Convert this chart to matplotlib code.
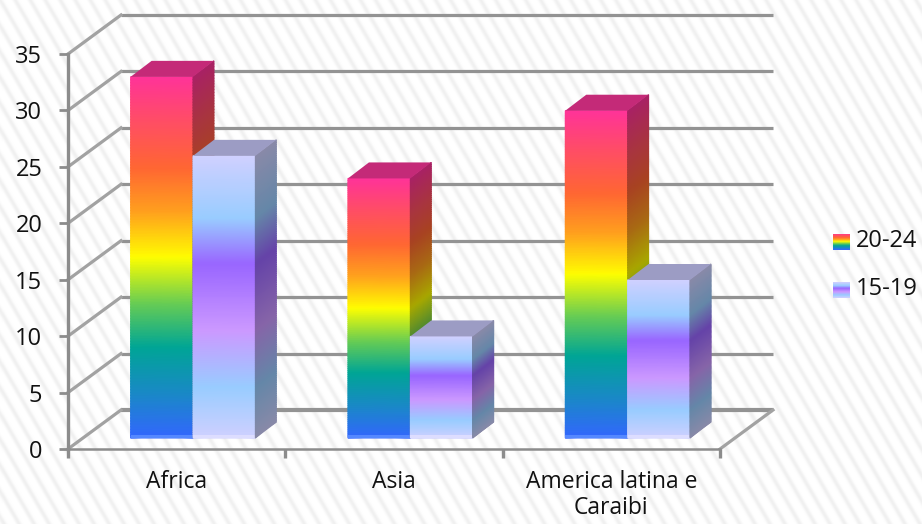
import numpy as np
import matplotlib
matplotlib.use('Agg')
import matplotlib.pyplot as plt
from matplotlib.colors import LinearSegmentedColormap

categorias = ['Africa', 'Asia', 'America latina e\nCaraibi']
valores_20_24 = [32, 23, 29]
valores_15_19 = [25, 9, 14]
rotulos_y = [0, 5, 10, 15, 20, 25, 30, 35]
series = ['20-24', '15-19']

plt.rcParams['font.family'] = ['Open Sans', 'DejaVu Sans']

W, H = 922, 524
fig = plt.figure(figsize=(W / 100, H / 100), dpi=100)

# fundo com listras diagonais bem claras
yy, xx = np.mgrid[0:H, 0:W]
fase = (xx - 0.58 * yy) / 15.0
listras = 0.5 + 0.5 * np.cos(2 * np.pi * fase)
fundo = 1.0 - 0.06 * listras ** 3
ax_fundo = fig.add_axes([0, 0, 1, 1], zorder=0)
ax_fundo.imshow(fundo, cmap='gray', vmin=0, vmax=1, aspect='auto', interpolation='bilinear')
ax_fundo.axis('off')

# eixos: retangulo frontal do grafico 3D, em pixels da figura
ax = fig.add_axes([68 / W, 1 - 449 / H, (720 - 68) / W, (449 - 54) / H], zorder=1)
ax.patch.set_alpha(0)
ax.set_xlim(0, 3)
ax.set_ylim(0, 35)

cinza = '#939393'
prof_x = 53 / 217.33   # profundidade da parede do fundo
prof_y = 39 / 11.286
base_x = 15 / 217.33   # recuo da base das barras
base_y = 11 / 11.286
bar_x = 21 / 217.33    # profundidade das barras
bar_y = 16 / 11.286
largura = 0.287
inicio = 0.219

for v in rotulos_y:
    lw = 3.0 if v == 0 else 2.3
    ax.plot([prof_x, 3 + prof_x], [v + prof_y, v + prof_y], color=cinza, lw=lw,
            clip_on=False, zorder=1, solid_capstyle='butt')
    ax.plot([0, prof_x], [v, v + prof_y], color='#a2a2a2', lw=2.3, clip_on=False, zorder=1)
ax.plot([3, 3 + prof_x], [0, prof_y], color='#a2a2a2', lw=2.3, clip_on=False, zorder=1)

arco_iris = LinearSegmentedColormap.from_list('arco', [
    (0.00, '#3366FF'), (0.12, '#1A88C8'), (0.25, '#00A596'), (0.37, '#66CC55'),
    (0.50, '#FFFF00'), (0.63, '#FF9F1E'), (0.75, '#FF6633'), (0.88, '#FF4D66'), (1.00, '#FF3399')])
lilas = LinearSegmentedColormap.from_list('lilas', [
    (0.00, '#D0D0FF'), (0.18, '#99CCFF'), (0.38, '#CC99FF'), (0.62, '#9966FF'),
    (0.78, '#99CCFF'), (1.00, '#D0D0FF')])


def escurece(cmap, fator):
    cores = cmap(np.linspace(0, 1, 256))
    cores[:, :3] *= fator
    return LinearSegmentedColormap.from_list(cmap.name + '_esc', cores)


def barra(x0, valor, cmap, cor_topo, cor_base, z):
    x1 = x0 + largura
    y0 = base_y
    y1 = base_y + valor
    g = np.linspace(0, 1, 128)[None, :].T.repeat(2, axis=1)
    ys = np.linspace(y0, y1, 128)[:, None]
    # frente
    X = np.array([[x0, x1]]).repeat(128, axis=0)
    Y = ys.repeat(2, axis=1)
    ax.pcolormesh(X, Y, g, cmap=cmap, vmin=0, vmax=1, shading='gouraud', zorder=z, clip_on=False)
    ax.fill([x0, x1, x1, x0], [y0, y0, y0 + 0.3, y0 + 0.3], color=cor_base, lw=0, zorder=z, clip_on=False)
    # lado direito
    X = np.array([[x1, x1 + bar_x]]).repeat(128, axis=0)
    Y = np.hstack([ys, ys + bar_y])
    ax.pcolormesh(X, Y, g, cmap=escurece(cmap, 0.66), vmin=0, vmax=1, shading='gouraud',
                  zorder=z, clip_on=False)
    # topo
    ax.fill([x0, x1, x1 + bar_x, x0 + bar_x], [y1, y1, y1 + bar_y, y1 + bar_y],
            color=cor_topo, lw=0, zorder=z, clip_on=False)


for i in range(len(categorias)):
    x = i + inicio + base_x
    barra(x, valores_20_24[i], arco_iris, '#C42A78', '#5588FF', 3 + i)
    barra(x + largura, valores_15_19[i], lilas, '#9C9CC4', '#DDDDFF', 3.5 + i)

# eixos e rotulos
for lado in ['top', 'right']:
    ax.spines[lado].set_visible(False)
ax.spines['left'].set_color('#8c8c8c')
ax.spines['left'].set_linewidth(2.4)
ax.spines['bottom'].set_color('#8c8c8c')
ax.spines['bottom'].set_linewidth(1.8)
ax.spines['left'].set_zorder(2)
ax.spines['bottom'].set_zorder(2)
ax.set_yticks(rotulos_y)
ax.set_xticks([0, 1, 2, 3])
ax.set_xticklabels([])
ax.set_xticks([0.5, 1.5, 2.5], minor=True)
ax.set_xticklabels(categorias, minor=True, fontsize=16.5, color='#111111', linespacing=1.1)
ax.tick_params(axis='y', length=6.5, width=2, color='#8c8c8c', labelsize=17, pad=12, labelcolor='#111111')
ax.tick_params(axis='x', which='major', length=6.5, width=2.4, color='#8c8c8c')
ax.tick_params(axis='x', which='minor', length=0, pad=15)

# legenda manual com os gradientes
for cmap, y_px, txt in zip([arco_iris, lilas], [234, 282], series):
    ax_leg = fig.add_axes([833 / W, 1 - (y_px + 16) / H, 17 / W, 16 / H], zorder=2)
    ax_leg.imshow(np.linspace(1, 0, 32)[:, None], cmap=cmap, vmin=0, vmax=1, aspect='auto')
    ax_leg.axis('off')
    fig.text(856 / W, 1 - (y_px + 7) / H, txt, fontsize=17, color='#111111', va='center', ha='left')

fig.savefig('out.png', dpi=100)
